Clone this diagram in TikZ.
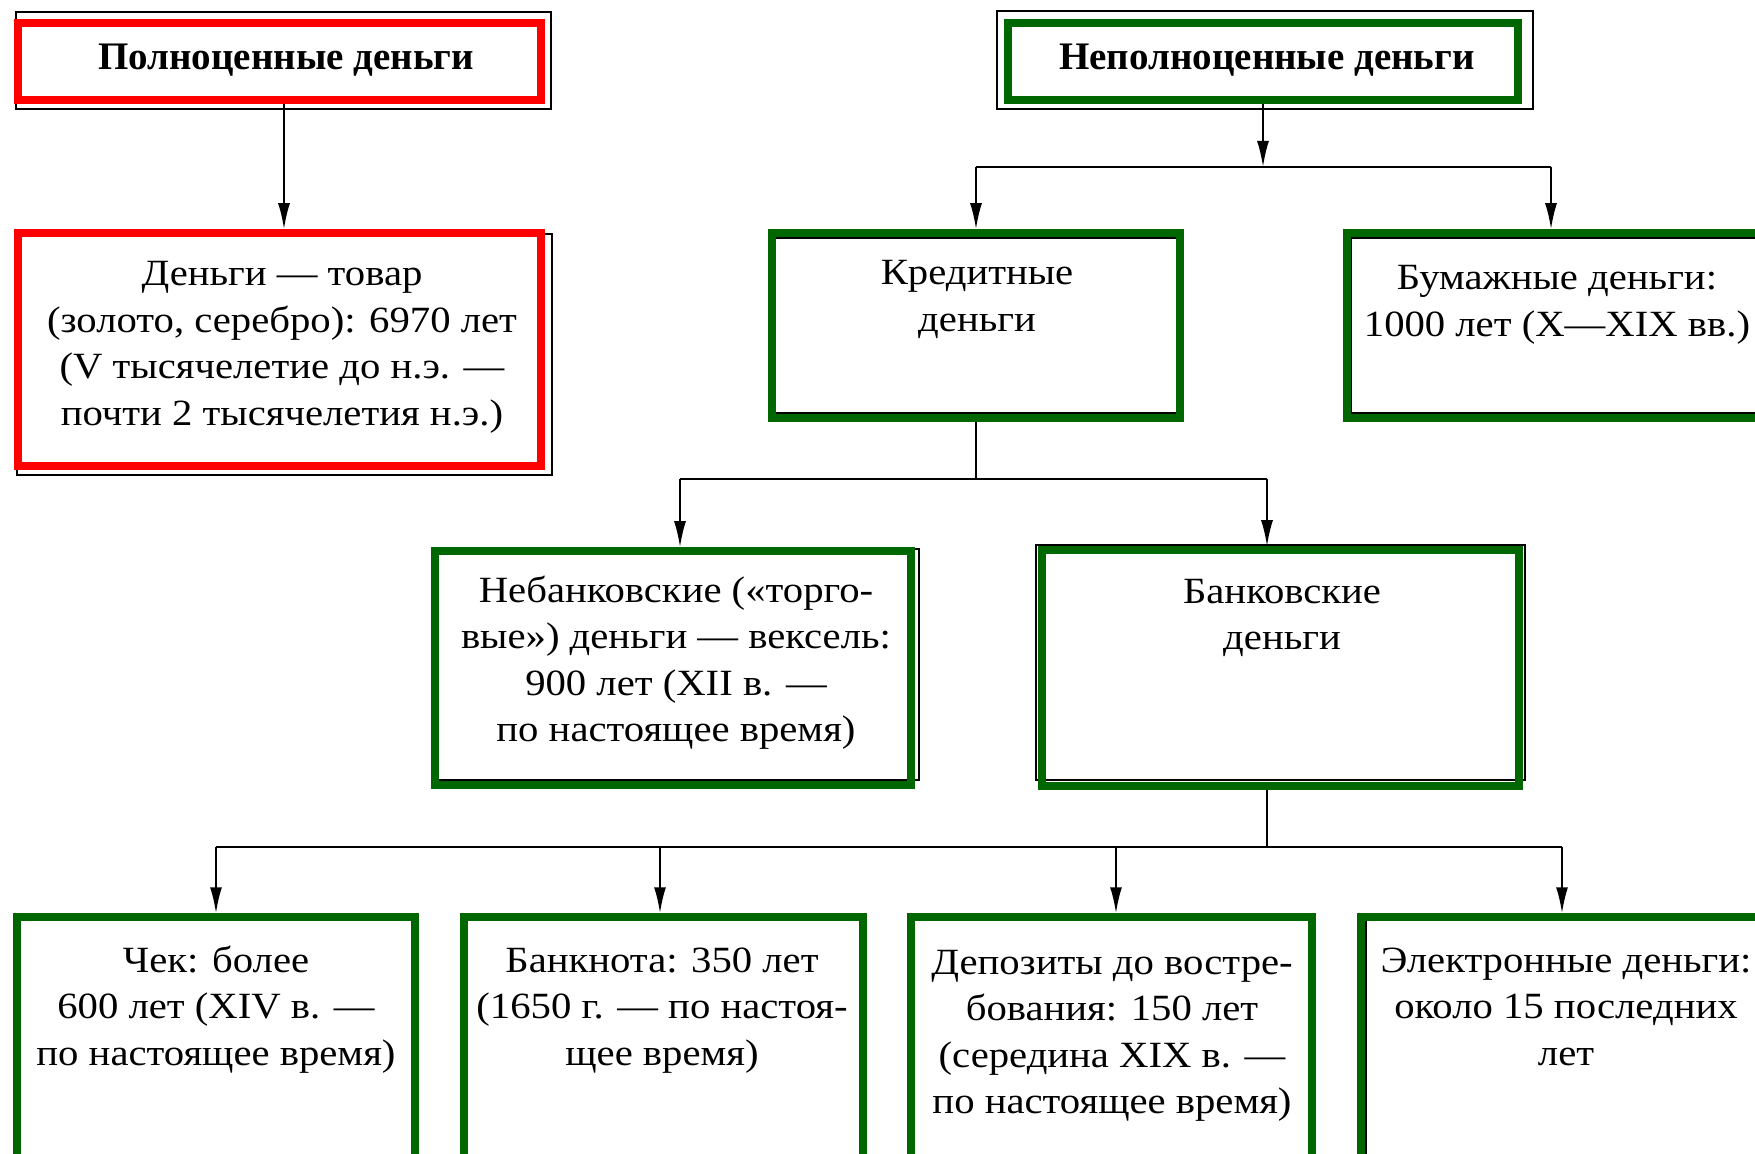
\documentclass[tikz,border=0pt]{standalone}
\usepackage{fontspec}
\setmainfont{Liberation Serif}
\newfontfamily\bodyfont{Liberation Serif}[FakeStretch=1.1]
\usetikzlibrary{arrows.meta,fit}
\definecolor{gr}{RGB}{0,102,0}
\definecolor{rd}{RGB}{255,0,0}
\begin{document}
\begin{tikzpicture}[x=0.5pt,y=-0.5pt,
  cbox/.style={draw=#1, line width=3.75pt, inner sep=0pt},
  thinbox/.style={draw=black, line width=1pt},
  txt/.style={align=center, font=\bodyfont\fontsize{18.5}{23.25}\selectfont, inner sep=0pt, anchor=base},
  ttl/.style={font=\fontsize{19.5}{23.25}\selectfont\bfseries, inner sep=0pt, anchor=base},
  conn/.style={line width=1pt},
  arr/.style={line width=1pt, -{Latex[length=13pt,width=6pt]}}]
\fill[white] (0,0) rectangle (1755,1154);
\useasboundingbox (0,0) rectangle (1755,1154);
\clip (0,0) rectangle (1755,1154);

% thin black frames behind the coloured ones
\draw[thinbox] (16,12) rectangle (551,109);
\draw[thinbox] (997,11) rectangle (1533,109);
\draw[thinbox] (17,234) rectangle (552,475);
\draw[thinbox] (771,238.5) rectangle (1180,413);
\draw[thinbox] (1351,238.5) rectangle (1770,413);
\draw[thinbox] (436,549) rectangle (919,780);
\draw[thinbox] (1036,545) rectangle (1525,780);
\draw[thinbox] (1366,917) rectangle (1780,1180);

% coloured boxes
\node[cbox=rd, fit={(18,23) (541,100)}] (A) {};
\node[cbox=gr, fit={(1008,23) (1518,100)}] (B) {};
\node[cbox=rd, fit={(18,233) (541,466)}] (C) {};
\node[cbox=gr, fit={(772,233) (1180,418)}] (D) {};
\node[cbox=gr, fit={(1347,233) (1761,418)}] (E) {};
\node[cbox=gr, fit={(435,551) (911,785)}] (F) {};
\node[cbox=gr, fit={(1042,550) (1519,786)}] (G) {};
\node[cbox=gr, fit={(17,917) (415,1170)}] (H) {};
\node[cbox=gr, fit={(464,917) (863,1170)}] (I) {};
\node[cbox=gr, fit={(911,917) (1312,1170)}] (J) {};
\node[cbox=gr, fit={(1361,917) (1770,1170)}] (K) {};

% texts (anchor = baseline of the last line)
\node[ttl] (At) at (286,69.5) {Полноценные деньги};
\node[ttl] (Bt) at (1267,69.5) {Неполноценные деньги};
\node[txt] (Ct) at (282,425.5) {Деньги — товар\\(золото, серебро): 6970 лет\\(V тысячелетие до н.э. —\\почти 2 тысячелетия н.э.)};
\node[txt] (Dt) at (977,331.5) {Кредитные\\деньги};
\node[txt] (Et) at (1557,336.5) {Бумажные деньги:\\1000 лет (X—XIX вв.)};
\node[txt] (Ft) at (676,741.5) {Небанковские («торго-\\вые») деньги — вексель:\\900 лет (XII в. —\\по настоящее время)};
\node[txt] (Gt) at (1282,649.5) {Банковские\\деньги};
\node[txt] (Ht) at (216,1065) {Чек: более\\600 лет (XIV в. —\\по настоящее время)};
\node[txt] (It) at (662,1065) {Банкнота: 350 лет\\(1650 г. — по настоя-\\щее время)};
\node[txt] (Jt) at (1112,1113.5) {Депозиты до востре-\\бования: 150 лет\\(середина XIX в. —\\по настоящее время)};
\node[txt] (Kt) at (1566,1065) {Электронные деньги:\\около 15 последних\\лет};

% connectors
\draw[arr] ([xshift=2.25pt]A.south) -- ([xshift=2.25pt]C.north);

\coordinate (jB) at (1263,167);
\coordinate (bD) at (976,167);
\coordinate (bE) at (1551,167);
\draw[arr] (B.south) -- (jB);
\draw[conn] (bD) -- (bE);
\draw[arr] (bD) -- (bD |- D.north);
\draw[arr] (bE) -- (bE |- E.north);

\coordinate (jD) at (976,479);
\coordinate (bF) at (680,479);
\coordinate (bG) at (1267,479);
\draw[conn] (D.south) -- (jD);
\draw[conn] (bF) -- (bG);
\draw[arr] (bF) -- (bF |- F.north);
\draw[arr] (bG) -- (bG |- G.north);

\coordinate (sG) at (1267,786);
\coordinate (jG) at (1267,847);
\coordinate (bH) at (216,847);
\coordinate (bI) at (660,847);
\coordinate (bJ) at (1116,847);
\coordinate (bK) at (1562,847);
\draw[conn] (sG |- G.south) -- (jG);
\draw[conn] (bH) -- (bK);
\draw[arr] (bH) -- (bH |- H.north);
\draw[arr] (bI) -- (bI |- I.north);
\draw[arr] (bJ) -- (bJ |- J.north);
\draw[arr] (bK) -- (bK |- K.north);
\end{tikzpicture}
\end{document}
